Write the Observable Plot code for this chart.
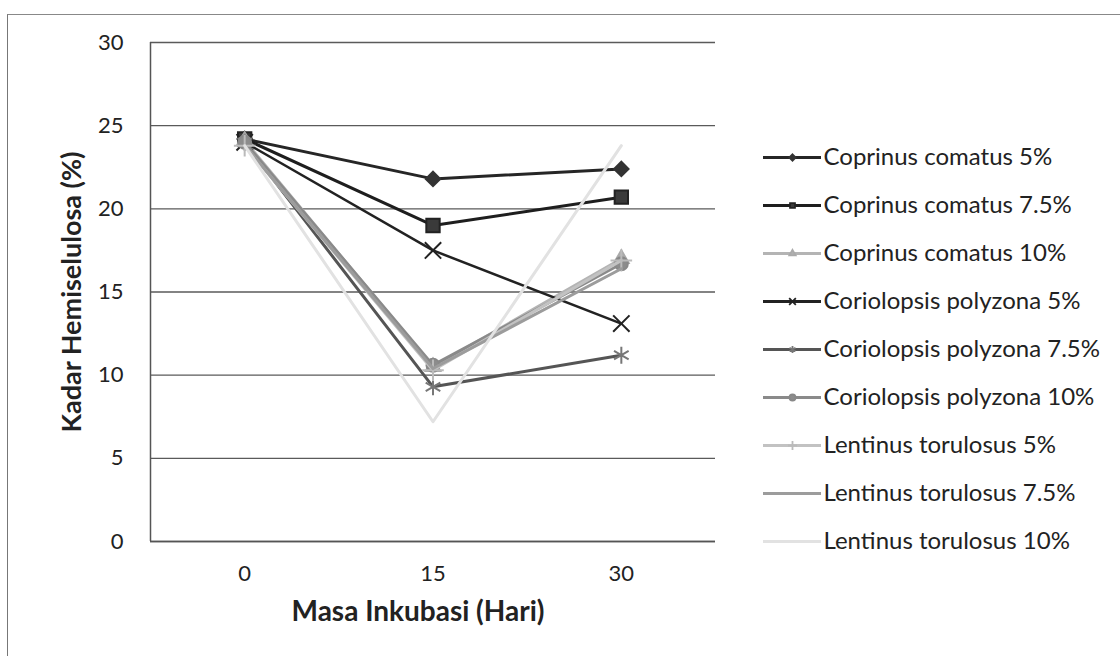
<!DOCTYPE html>
<html><head><meta charset="utf-8">
<script src="https://cdn.jsdelivr.net/npm/d3@7"></script>
<script src="https://cdn.jsdelivr.net/npm/@observablehq/plot@0.6"></script>
<style>
body{margin:0;background:#fff;}
#wrap{position:relative;width:1120px;height:656px;overflow:hidden;font-family:Lato,sans-serif;background:#fff;}
#border{position:absolute;left:7px;top:14px;width:1200px;height:700px;border-left:1.5px solid #777;border-top:1.5px solid #888;}
#main{position:absolute;left:0;top:0;}
#legend{position:absolute;left:755px;top:130px;}
</style></head><body>
<div id="wrap"><div id="border"></div><div id="main"></div><div id="legend"></div></div>
<script>
// ---- data ----
const days = [0, 15, 30];
const seriesNames = [
  "Coprinus comatus 5%",
  "Coprinus comatus 7.5%",
  "Coprinus comatus 10%",
  "Coriolopsis polyzona 5%",
  "Coriolopsis polyzona 7.5%",
  "Coriolopsis polyzona 10%",
  "Lentinus torulosus 5%",
  "Lentinus torulosus 7.5%",
  "Lentinus torulosus 10%"
];
const coprinus5   = [24.2, 21.8, 22.4];
const coprinus75  = [24.2, 19.0, 20.7];
const coprinus10  = [24.1, 10.5, 17.0];
const coriolo5    = [24.0, 17.5, 13.1];
const coriolo75   = [24.0,  9.3, 11.2];
const coriolo10   = [24.0, 10.6, 16.7];
const lentinus5   = [23.8, 10.3, 16.9];
const lentinus75  = [23.8, 10.4, 16.4];
const lentinus10  = [23.8,  7.2, 23.8];
const yTicks = [0, 5, 10, 15, 20, 25, 30];
const xLabel = "Masa Inkubasi (Hari)";
const yLabel = "Kadar Hemiselulosa (%)";

const seriesValues = [coprinus5, coprinus75, coprinus10, coriolo5, coriolo75, coriolo10, lentinus5, lentinus75, lentinus10];

// ---- styles ----
const styles = {
  "Coprinus comatus 5%":       {color: "#262626", width: 3,   symbol: "diamond2", r: 6.5, fill: "#333", mstroke: "#333", lr: 5},
  "Coprinus comatus 7.5%":     {color: "#1e1e1e", width: 3,   symbol: "square2",  r: 8.5, fill: "#3a3a3a", mstroke: "#222", lr: 6},
  "Coprinus comatus 10%":      {color: "#b4b4b4", width: 3,   symbol: "triangle2",r: 7,   fill: "#b0b0b0", mstroke: "#aaa", lr: 5.5},
  "Coriolopsis polyzona 5%":   {color: "#222222", width: 2.5, symbol: "times",    r: 7.5, fill: "none", mstroke: "#222", lr: 6},
  "Coriolopsis polyzona 7.5%": {color: "#555555", width: 3,   symbol: "asterisk", r: 8,   fill: "none", mstroke: "#777", lr: 6.5},
  "Coriolopsis polyzona 10%":  {color: "#8a8a8a", width: 3,   symbol: "circle",   r: 6.5, fill: "#8c8c8c", mstroke: "#888", lr: 5.5},
  "Lentinus torulosus 5%":     {color: "#c2c2c2", width: 3,   symbol: "plus",     r: 7,   fill: "none", mstroke: "#bbb", lr: 5.5},
  "Lentinus torulosus 7.5%":   {color: "#9c9c9c", width: 3,   symbol: null},
  "Lentinus torulosus 10%":    {color: "#e2e2e2", width: 3,   symbol: null}
};

const rows = [];
seriesNames.forEach((s, i) => days.forEach((d, j) => rows.push({series: s, day: d, value: seriesValues[i][j]})));

const half = (days[1] - days[0]) / 2;
const xDomain = [days[0] - half, days[days.length - 1] + half];

const marks = [
  Plot.gridY(yTicks, {stroke: "#5a5a5a", strokeOpacity: 1, strokeWidth: 1.3}),
  Plot.ruleY([0], {stroke: "#555", strokeWidth: 1.5}),
  Plot.ruleX([xDomain[0]], {stroke: "#555", strokeWidth: 1.5}),
  Plot.axisY(yTicks, {tickSize: 0, tickPadding: 27, label: null, fill: "#222", fontSize: 22}),
  Plot.axisX(days, {tickSize: 0, tickPadding: 24, label: null, fill: "#222", fontSize: 22}),
  Plot.text([yLabel], {frameAnchor: "left", textAnchor: "middle", dx: -78, rotate: -90, fontWeight: "bold", fontSize: 27, fill: "#222"}),
  Plot.text([xLabel], {frameAnchor: "bottom", textAnchor: "middle", dx: -15, dy: 79, fontWeight: "bold", fontSize: 28, fill: "#222"})
];
seriesNames.forEach(s => {
  const st = styles[s];
  const data = rows.filter(r => r.series === s);
  marks.push(Plot.line(data, {x: "day", y: "value", stroke: st.color, strokeWidth: st.width}));
  if (st.symbol) {
    marks.push(Plot.dot(data, {x: "day", y: "value", symbol: st.symbol, r: st.r, fill: st.fill, stroke: st.mstroke, strokeWidth: 2}));
  }
});

const main = Plot.plot({
  width: 1120, height: 656,
  marginLeft: 150, marginRight: 405, marginTop: 42, marginBottom: 115,
  style: {fontFamily: "Lato, sans-serif", fontSize: "22px", background: "transparent", color: "#222"},
  x: {domain: xDomain, axis: null},
  y: {domain: [0, 30], axis: null},
  marks
});
document.getElementById("main").appendChild(main);

// ---- legend ----
const legendMarked = seriesNames.filter(s => styles[s].symbol);
const legend = Plot.plot({
  width: 365, height: 440,
  marginLeft: 0, marginRight: 0, marginTop: 0, marginBottom: 0,
  style: {fontFamily: "Lato, sans-serif", fontSize: "24px", background: "transparent", color: "#222"},
  x: {domain: [0, 365], range: [0, 365], axis: null},
  y: {type: "point", domain: seriesNames, range: [27, 411], padding: 0, axis: null},
  marks: [
    Plot.ruleY(seriesNames, {y: d => d, x1: 8, x2: 66, stroke: d => styles[d].color, strokeWidth: 3}),
    Plot.dot(legendMarked, {y: d => d, x: 37, symbol: d => styles[d].symbol, r: d => styles[d].lr,
      fill: d => styles[d].fill, stroke: d => styles[d].mstroke, strokeWidth: 1.8}),
    Plot.text(seriesNames, {y: d => d, x: 68, text: d => d, textAnchor: "start", fill: "#222", fontSize: 24})
  ]
});
document.getElementById("legend").appendChild(legend);
</script>
</body></html>
